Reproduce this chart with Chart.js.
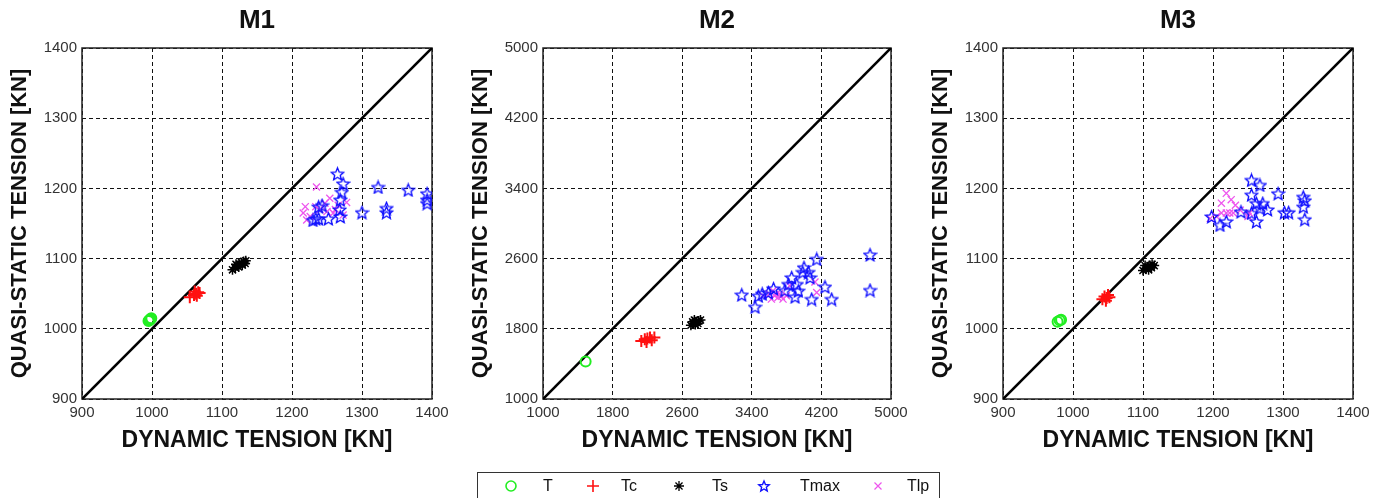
<!DOCTYPE html>
<html>
<head>
<meta charset="utf-8">
<script src="https://cdn.jsdelivr.net/npm/chart.js@4.4.1/dist/chart.umd.min.js"></script>
<style>
  body { margin: 0; background: #fff; width: 1384px; height: 498px; overflow: hidden; position: relative; }
  .panel { position: absolute; top: 0; width: 462px; height: 470px; }
  #legend { position: absolute; left: 476px; top: 471px; }
</style>
</head>
<body>
<div class="panel" style="left:0"><canvas id="m1"></canvas></div>
<div class="panel" style="left:461px"><canvas id="m2"></canvas></div>
<div class="panel" style="left:921px"><canvas id="m3"></canvas></div>
<canvas id="legend" width="466" height="30"></canvas>
<script>
// M1 tensions [dynamic, quasi-static] in kN
const m1T = [[995, 1011], [997, 1013], [999, 1015], [996, 1012], [998, 1014]];
const m1Tc = [[1054, 1045], [1060, 1048], [1063, 1050], [1066, 1052], [1064, 1047], [1068, 1051], [1061, 1053]];
const m1Ts = [[1115, 1084], [1119, 1087], [1122, 1090], [1125, 1092], [1128, 1094], [1131, 1096], [1134, 1097],
  [1124, 1088], [1129, 1091], [1120, 1092], [1133, 1093]];
const m1Tmax = [[1265, 1221], [1273, 1207], [1271, 1195], [1269, 1184], [1323, 1202], [1366, 1198], [1393, 1193],
  [1393, 1184], [1393, 1179], [1300, 1166], [1335, 1172], [1335, 1166], [1269, 1160], [1252, 1157], [1234, 1157],
  [1238, 1157], [1230, 1155], [1238, 1174], [1243, 1176], [1268, 1170]];
const m1Tlp = [[1235, 1202], [1219, 1174], [1216, 1165], [1221, 1155], [1234, 1174], [1247, 1179], [1254, 1186],
  [1266, 1176], [1278, 1180], [1250, 1167], [1259, 1165], [1273, 1162], [1240, 1170], [1226, 1160], [1262, 1170]];

// M2
const m2T = [[1490, 1428]];
const m2Tc = [[2130, 1660], [2170, 1680], [2200, 1690], [2230, 1700], [2250, 1670], [2190, 1650], [2280, 1700]];
const m2Ts = [[2700, 1840], [2730, 1860], [2760, 1880], [2790, 1890], [2750, 1850], [2720, 1880], [2780, 1860],
  [2810, 1900], [2740, 1900]];
const m2Tmax = [[3284, 2189], [3437, 2051], [3475, 2177], [3590, 2215], [3858, 2386], [3916, 2310], [3934, 2234],
  [3897, 2166], [3985, 2447], [4050, 2447], [4000, 2500], [4069, 2386], [4146, 2596], [4088, 2139], [4241, 2280],
  [4318, 2139], [4759, 2646], [4759, 2242], [3520, 2200], [3650, 2260], [3780, 2240], [3820, 2310]];
const m2Tlp = [[3528, 2177], [3644, 2234], [3682, 2196], [3701, 2158], [3625, 2139], [3759, 2139], [3797, 2177],
  [3836, 2291], [4126, 2333], [4146, 2214], [3600, 2200], [3660, 2180], [3720, 2200], [3740, 2170]];

// M3
const m3T = [[978, 1010], [981, 1012], [983, 1013]];
const m3Tc = [[1042, 1042], [1045, 1046], [1048, 1044], [1050, 1048], [1047, 1040], [1052, 1045]];
const m3Ts = [[1100, 1083], [1104, 1086], [1107, 1088], [1110, 1090], [1113, 1092], [1116, 1090], [1108, 1084],
  [1112, 1087], [1103, 1090]];
const m3Tmax = [[1255, 1212], [1267, 1205], [1255, 1191], [1293, 1193], [1329, 1188], [1331, 1183], [1329, 1174],
  [1331, 1156], [1262, 1179], [1271, 1179], [1267, 1172], [1278, 1170], [1255, 1165], [1240, 1167], [1262, 1153],
  [1302, 1166], [1308, 1166], [1219, 1153], [1210, 1148], [1198, 1160]];
const m3Tlp = [[1219, 1193], [1212, 1179], [1226, 1184], [1232, 1176], [1239, 1169], [1212, 1165], [1219, 1165],
  [1224, 1165], [1229, 1165], [1205, 1160], [1196, 1157], [1250, 1160], [1252, 1165]];

// axis ranges [min, max, step]
const m1Range = [900, 1400, 100];
const m2Range = [1000, 5000, 800];
const m3Range = [900, 1400, 100];

const seriesNames = ['T', 'Tc', 'Ts', 'Tmax', 'Tlp'];

const FONT = 'Arial, "Liberation Sans", sans-serif';
const GREEN = '#22ee22', RED = '#ff1010', BLUE = '#1010ff', PINK = '#ee55ee';

// five-pointed star outline, used as a point image
function starPath(ctx, cx, cy, r) {
  ctx.beginPath();
  for (let i = 0; i < 10; i++) {
    const rad = i % 2 === 0 ? r : r * 0.45;
    const a = -Math.PI / 2 + i * Math.PI / 5;
    const px = cx + rad * Math.cos(a), py = cy + rad * Math.sin(a);
    if (i === 0) ctx.moveTo(px, py); else ctx.lineTo(px, py);
  }
  ctx.closePath();
}
function makeStar(size, r) {
  const c = document.createElement('canvas');
  c.width = size; c.height = size;
  const g = c.getContext('2d');
  g.strokeStyle = BLUE;
  g.lineWidth = 1.4;
  starPath(g, size / 2, size / 2 + 0.8, r);
  g.stroke();
  return c;
}
const starImg = makeStar(15, 6.5);

const pts = arr => arr.map(p => ({ x: p[0], y: p[1] }));

// panel title centred over the plot area, plus solid plot frame
const framePlugin = {
  id: 'frame',
  beforeDatasetsDraw(chart) {
    const { ctx, chartArea: a } = chart;
    ctx.save();
    ctx.strokeStyle = '#222';
    ctx.lineWidth = 1.5;
    ctx.strokeRect(a.left, a.top, a.right - a.left, a.bottom - a.top);
    ctx.restore();
  },
  afterDraw(chart, args, opts) {
    const { ctx, chartArea: a } = chart;
    ctx.save();
    ctx.font = 'bold 26px ' + FONT;
    ctx.fillStyle = '#111';
    ctx.textAlign = 'center';
    ctx.textBaseline = 'middle';
    ctx.fillText(opts.text, (a.left + a.right) / 2, 21);
    ctx.restore();
  }
};

function makePanel(id, title, range, T, Tc, Ts, Tmax, Tlp, padRight) {
  const [lo, hi, step] = range;
  const grid = { color: '#111', lineWidth: 1, drawTicks: false };
  const tickFont = { family: FONT, size: 15 };
  const label = v => String(v);
  return new Chart(document.getElementById(id), {
    type: 'scatter',
    data: {
      datasets: [
        { label: 'diag', type: 'line', data: [{ x: lo, y: lo }, { x: hi, y: hi }], borderColor: '#000', borderWidth: 2.6, pointRadius: 0, order: 10 },
        { label: seriesNames[0], data: pts(T), pointStyle: 'circle', pointRadius: 5, borderColor: GREEN, backgroundColor: 'rgba(0,0,0,0)', borderWidth: 2 },
        { label: seriesNames[1], data: pts(Tc), pointStyle: 'cross', pointRadius: 6, borderColor: RED, borderWidth: 2 },
        { label: seriesNames[2], data: pts(Ts), pointStyle: 'star', pointRadius: 5, borderColor: '#000', borderWidth: 1.5 },
        { label: seriesNames[3], data: pts(Tmax), pointStyle: starImg, pointRadius: 6, borderColor: BLUE },
        { label: seriesNames[4], data: pts(Tlp), pointStyle: 'crossRot', pointRadius: 5, borderColor: PINK, borderWidth: 1.3 }
      ]
    },
    options: {
      responsive: true,
      maintainAspectRatio: false,
      animation: false,
      events: [],
      layout: { padding: { left: 0, top: 48, right: padRight, bottom: 16 } },
      plugins: {
        legend: { display: false },
        tooltip: { enabled: false },
        frame: { text: title }
      },
      scales: {
        x: {
          type: 'linear', min: lo, max: hi,
          ticks: { stepSize: step, color: '#333', font: tickFont, padding: 5, maxRotation: 0, callback: label },
          grid: grid,
          // in v4 the border dash also sets the grid line dash
          border: { display: false, dash: [4, 3] },
          title: { display: true, text: 'DYNAMIC TENSION [KN]', color: '#111', font: { family: FONT, size: 23, weight: 'bold' }, padding: { top: 0, bottom: 0 } },
          afterFit(s) { s.height = 55; s.paddingLeft = 0; s.paddingRight = 0; }
        },
        y: {
          type: 'linear', min: lo, max: hi,
          ticks: { stepSize: step, color: '#333', font: tickFont, padding: 5, callback: label },
          grid: grid,
          border: { display: false, dash: [4, 3] },
          title: { display: true, text: 'QUASI-STATIC TENSION [KN]', color: '#111', font: { family: FONT, size: 22, weight: 'bold' }, padding: { top: 7, bottom: 0 } },
          afterFit(s) { s.width = 82; s.paddingTop = 0; s.paddingBottom = 0; }
        }
      }
    },
    plugins: [framePlugin]
  });
}

makePanel('m1', 'M1', m1Range, m1T, m1Tc, m1Ts, m1Tmax, m1Tlp, 30);
makePanel('m2', 'M2', m2Range, m2T, m2Tc, m2Ts, m2Tmax, m2Tlp, 32);
makePanel('m3', 'M3', m3Range, m3T, m3Tc, m3Ts, m3Tmax, m3Tlp, 30);

// shared legend strip below the middle panel
(function drawLegend() {
  const cv = document.getElementById('legend');
  const g = cv.getContext('2d');
  const ox = 476, oy = 471;
  g.strokeStyle = '#333';
  g.lineWidth = 1;
  g.strokeRect(1.5, 1.5, 938 - ox, 40);
  const cy = 486 - oy;
  const marks = [511, 593, 679, 764, 878];
  const texts = [548, 629, 720, 820, 918];
  // circle
  g.strokeStyle = GREEN; g.lineWidth = 1.6;
  g.beginPath(); g.arc(marks[0] - ox, cy, 5, 0, Math.PI * 2); g.stroke();
  // plus
  g.strokeStyle = RED; g.lineWidth = 1.6;
  g.beginPath();
  g.moveTo(marks[1] - ox - 6, cy); g.lineTo(marks[1] - ox + 6, cy);
  g.moveTo(marks[1] - ox, cy - 6); g.lineTo(marks[1] - ox, cy + 6);
  g.stroke();
  // asterisk
  g.strokeStyle = '#000'; g.lineWidth = 1.3;
  g.beginPath();
  for (let i = 0; i < 4; i++) {
    const a = i * Math.PI / 4;
    g.moveTo(marks[2] - ox - 5 * Math.cos(a), cy - 5 * Math.sin(a));
    g.lineTo(marks[2] - ox + 5 * Math.cos(a), cy + 5 * Math.sin(a));
  }
  g.stroke();
  // star
  g.strokeStyle = BLUE; g.lineWidth = 1.4;
  starPath(g, marks[3] - ox, cy + 0.5, 5.5); g.stroke();
  // x
  g.strokeStyle = PINK; g.lineWidth = 1.2;
  g.beginPath();
  g.moveTo(marks[4] - ox - 3.5, cy - 3.5); g.lineTo(marks[4] - ox + 3.5, cy + 3.5);
  g.moveTo(marks[4] - ox + 3.5, cy - 3.5); g.lineTo(marks[4] - ox - 3.5, cy + 3.5);
  g.stroke();
  g.fillStyle = '#111';
  g.font = '16px ' + FONT;
  g.textAlign = 'center';
  g.textBaseline = 'middle';
  seriesNames.forEach((n, i) => g.fillText(n, texts[i] - ox, cy + 1));
})();
</script>
</body>
</html>
